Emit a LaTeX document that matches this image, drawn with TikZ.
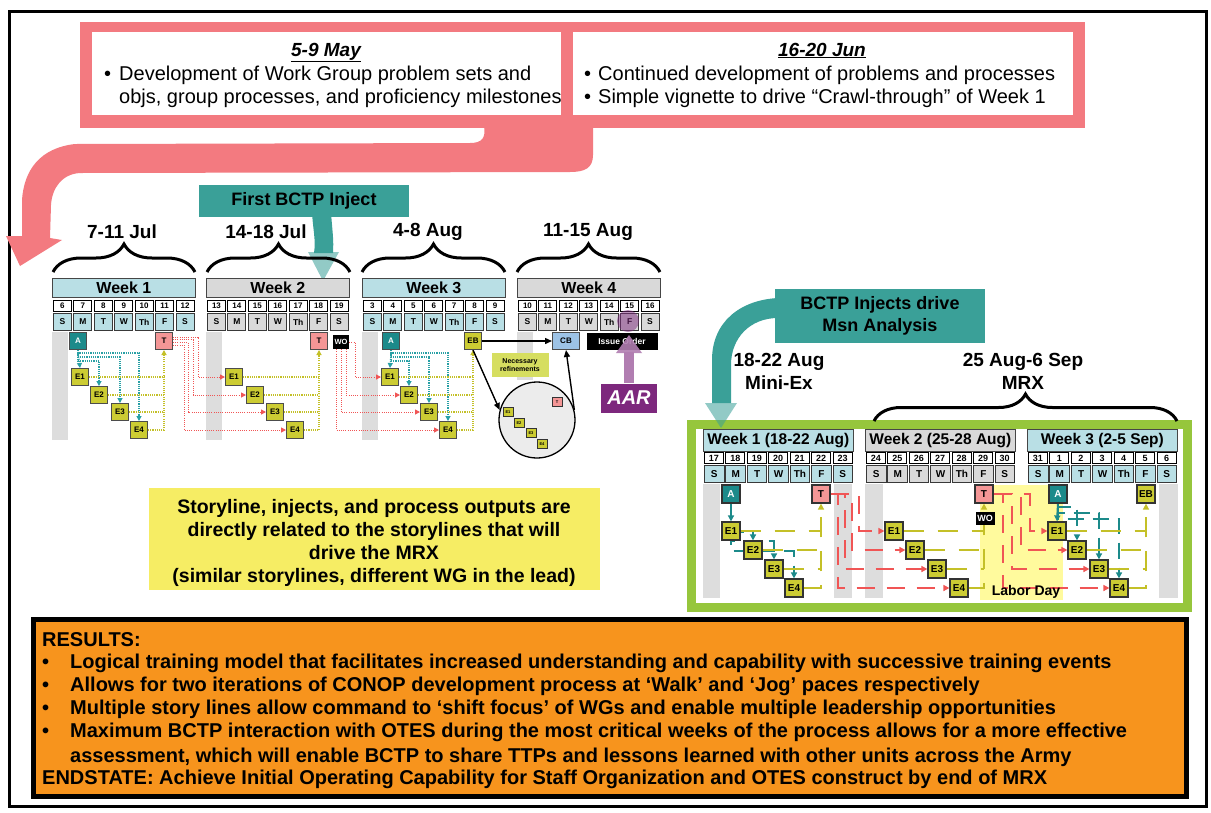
\documentclass[tikz,border=0pt]{standalone}
\usepackage{fontspec}
\setmainfont{Liberation Sans}
\usetikzlibrary{arrows.meta,decorations.pathreplacing,calc}
\pgfdeclarelayer{back}
\pgfdeclarelayer{lines}
\pgfsetlayers{back,lines,main}
\definecolor{pinkC}{RGB}{243,122,128}
\definecolor{tealC}{RGB}{58,160,152}
\definecolor{tealD}{RGB}{28,138,138}
\definecolor{lblue}{RGB}{185,223,229}
\definecolor{lgray}{RGB}{217,217,217}
\definecolor{barg}{RGB}{221,221,221}
\definecolor{ebC}{RGB}{204,204,51}
\definecolor{tC}{RGB}{244,150,150}
\definecolor{cbC}{RGB}{157,195,230}
\definecolor{purC}{RGB}{125,40,125}
\definecolor{grnC}{RGB}{150,198,60}
\definecolor{orgC}{RGB}{247,148,29}
\definecolor{yelC}{RGB}{246,237,100}
\definecolor{redL}{RGB}{240,85,85}
\definecolor{yelL}{RGB}{196,192,40}
\definecolor{tealL}{RGB}{40,160,165}
\definecolor{nrC}{RGB}{214,222,96}
\newcommand{\dayl}[1]{\ifcase#1 S\or M\or T\or W\or Th\or F\or S\fi}
\newcommand{\leftweek}[5]{%
  \node[hdr, fill=#3, minimum width=143pt, minimum height=19pt, anchor=north west, font=\fontsize{16}{18}\selectfont\bfseries] (#1h) at (#2,278) {#4};
  \foreach \dd [count=\ii from 0] in {#5} {%
    \node[numbox, minimum width=18pt, minimum height=11pt, anchor=north west, font=\fontsize{8}{8}\selectfont\bfseries] (#1n\ii) at ({#2+\ii*143/7+1},300) {\dd};
    \node[letbox, fill=#3, minimum width=18pt, minimum height=17pt, anchor=north west, font=\fontsize{8.5}{9}\selectfont\bfseries] (#1l\ii) at ({#2+\ii*143/7+1},313) {\dayl{\ii}};
  }%
}
\newcommand{\mrxweek}[5]{%
  \node[hdr, fill=#3, minimum width=150pt, minimum height=22pt, anchor=north west, font=\fontsize{15.5}{18}\selectfont\bfseries] (#1h) at (#2,429) {#4};
  \foreach \dd [count=\ii from 0] in {#5} {%
    \node[numbox, minimum width=19pt, minimum height=11pt, anchor=north west, font=\fontsize{9}{9}\selectfont\bfseries] (#1n\ii) at ({#2+\ii*150/7+1},452) {\dd};
    \node[letbox, fill=#3, minimum width=19.5pt, minimum height=17pt, anchor=north west, font=\fontsize{10}{10}\selectfont\bfseries] (#1l\ii) at ({#2+\ii*150/7+1},465) {\dayl{\ii}};
  }%
}
\begin{document}
\begin{tikzpicture}[x=1pt,y=-1pt,
  hdr/.style={draw=gray!55!black, line width=0.8pt, inner sep=0pt},
  numbox/.style={draw=black, fill=white, line width=0.9pt, inner sep=0pt},
  letbox/.style={draw=gray!45!black, line width=1pt, inner sep=0pt},
  lsq/.style={draw=black!70, line width=1pt, minimum width=17pt, minimum height=17pt, inner sep=0pt, font=\fontsize{8}{8}\selectfont\bfseries},
  msq/.style={draw=black!80, line width=1.2pt, minimum width=18pt, minimum height=18pt, inner sep=0pt, font=\fontsize{10}{10}\selectfont\bfseries},
  tiny/.style={draw=black!80, line width=0.8pt, fill=ebC, minimum width=10pt, minimum height=9pt, inner sep=0pt, font=\fontsize{4}{4}\selectfont\bfseries},
  tdot/.style={tealL, line width=1.1pt, dash pattern=on 1.1pt off 1.1pt},
  ydot/.style={yelL, line width=1.1pt, dash pattern=on 1.1pt off 1.1pt},
  rdot/.style={redL, line width=1pt, dash pattern=on 1pt off 1.2pt},
  arr/.style={-{Triangle[length=5pt,width=5pt]}},
  mteal/.style={tealD, line width=2pt, dash pattern=on 16pt off 9pt},
  myel/.style={yelL, line width=2pt, dash pattern=on 20pt off 14pt},
  mred/.style={redL, line width=2.2pt, dash pattern=on 18pt off 12pt},
  marr/.style={-{Triangle[length=6pt,width=6pt]}},
  blk/.style={black, line width=1.4pt, -{Triangle[length=7pt,width=6pt]}},
  brc/.style={decorate, decoration={brace, amplitude=28pt}, line width=3pt},
  lbl/.style={font=\fontsize{19}{22}\selectfont\bfseries},
  tf/.style={font=\fontsize{20}{22}\selectfont, inner sep=0pt},
  rf/.style={font=\fontsize{20}{20}\selectfont\bfseries, inner sep=0pt, anchor=base west}
]
\useasboundingbox (0,0) rectangle (1211,812);
% ---------- background layer ----------
\begin{pgfonlayer}{back}
\fill[white] (0,0) rectangle (1211,812);
\draw[line width=3pt] (9,11) rectangle (1206,806);
% pink band
\fill[pinkC] (593,126) -- (593,155) .. controls (593,168) and (585,172) .. (570,172) -- (80,173)
  .. controls (62,174) and (52,188) .. (51,205) -- (50,238) -- (62,240) -- (20,266) -- (6,236) -- (22,236) -- (22,200)
  .. controls (24,170) and (40,148) .. (75,144) -- (470,143) .. controls (482,143) and (486,138) .. (484,126) -- cycle;
\fill[pinkC] (80,22) rectangle (1085,128);
\fill[white] (92,32) rectangle (561,115);
\fill[white] (573,32) rectangle (1073,115);
% teal band (BCTP injects)
\fill[tealC] (778,298) .. controls (740,300) and (712,322) .. (712,360) -- (712,403) -- (731,403) -- (731,365) .. controls (731,338) and (750,318) .. (778,318) -- cycle;
% teal band (first inject)
\fill[tealC] (312,212) .. controls (313,230) and (316,240) .. (314,253) -- (333,253) .. controls (334,240) and (332,228) .. (331,212) -- cycle;
% gray day bars
\fill[barg] (52,332) rectangle (68,440);
\fill[barg] (206,332) rectangle (222,440);
\fill[barg] (362,332) rectangle (378,440);
\fill[barg] (517,332) rectangle (533,380);
% story box
\fill[yelC] (149,488) rectangle (600,590);
% green frame
\draw[grnC, line width=9pt] (691,424) rectangle (1187,607);
\fill[barg] (703,484) rectangle (720,598);
\fill[barg] (834,484) rectangle (852,598);
\fill[barg] (865,484) rectangle (883,598);
\fill[barg] (1159,484) rectangle (1178,598);
\fill[yellow!70!white, opacity=0.55] (980,485) rectangle (1063,600);
% results
\draw[fill=orgC, line width=5pt] (33,619) rectangle (1186,796);
\end{pgfonlayer}

% ---------- top text ----------
\node[anchor=base, font=\fontsize{19}{22}\selectfont\bfseries\itshape] (h1) at (326,56) {\underline{5-9 May}};
\node[tf, anchor=base west] (b11) at (104,80) {•};
\node[tf, anchor=base west] (t11) at (119,80) {Development of Work Group problem sets and};
\node[tf, anchor=base west] (t12) at (119,103) {objs, group processes, and proficiency milestones};
\node[anchor=base, font=\fontsize{19}{22}\selectfont\bfseries\itshape] (h2) at (822,56) {\underline{16-20 Jun}};
\node[tf, anchor=base west] (b21) at (584,80) {•};
\node[tf, anchor=base west] (t21) at (598,80) {Continued development of problems and processes};
\node[tf, anchor=base west] (b22) at (584,103) {•};
\node[tf, anchor=base west] (t22) at (598,103) {Simple vignette to drive “Crawl-through” of Week 1};

% ---------- left section ----------
\node[fill=tealC, minimum width=210pt, minimum height=32pt, inner sep=0pt, font=\fontsize{18}{20}\selectfont\bfseries] (inj1) at (304,201) {First BCTP Inject};
\fill[tealC, opacity=0.55] (308,252) -- (339,252) -- (323,281) -- cycle;

\node[lbl] (l1) at (122,232) {7-11 Jul};
\node[lbl] (l2) at (266,232) {14-18 Jul};
\node[lbl] (l3) at (428,232) {4-8 Aug};
\node[lbl] (l4) at (588,232) {11-15 Aug};
\draw[brc] (53,272) -- (195,272);
\draw[brc] (207,272) -- (350,272);
\draw[brc] (362,272) -- (505,272);
\draw[brc] (517,272) -- (660,272);

\leftweek{wa}{52}{lblue}{Week 1}{6,7,8,9,10,11,12}
\leftweek{wb}{206}{lgray}{Week 2}{13,14,15,16,17,18,19}
\leftweek{wc}{362}{lblue}{Week 3}{3,4,5,6,7,8,9}
\leftweek{wd}{517}{lgray}{Week 4}{10,11,12,13,14,15,16}

% week 1 nodes
\node[lsq, fill=tealD, text=white] (w1a) at (78,341) {A};
\node[lsq, fill=tC] (w1t) at (164,341) {T};
\node[lsq, fill=ebC] (w1e1) at (80,377) {E1};
\node[lsq, fill=ebC] (w1e2) at (99,395) {E2};
\node[lsq, fill=ebC] (w1e3) at (120,412) {E3};
\node[lsq, fill=ebC] (w1e4) at (139,430) {E4};
% week 2 nodes
\node[lsq, fill=tC] (w2t) at (319,341) {T};
\node[fill=black, text=white, minimum width=16pt, minimum height=14pt, inner sep=0pt, font=\fontsize{7.5}{8}\selectfont\bfseries] (w2wo) at (341,342) {WO};
\node[lsq, fill=ebC] (w2e1) at (234,377) {E1};
\node[lsq, fill=ebC] (w2e2) at (255,395) {E2};
\node[lsq, fill=ebC] (w2e3) at (275,412) {E3};
\node[lsq, fill=ebC] (w2e4) at (295,430) {E4};
% week 3 nodes
\node[lsq, fill=tealD, text=white] (w3a) at (391,341) {A};
\node[lsq, fill=ebC] (w3eb) at (473,341) {EB};
\node[lsq, fill=ebC] (w3e1) at (390,377) {E1};
\node[lsq, fill=ebC] (w3e2) at (409,395) {E2};
\node[lsq, fill=ebC] (w3e3) at (429,412) {E3};
\node[lsq, fill=ebC] (w3e4) at (448,430) {E4};
% week 4 nodes
\node[draw=gray!60!black, line width=1pt, fill=cbC, minimum width=27pt, minimum height=17pt, inner sep=0pt, font=\fontsize{8}{8}\selectfont\bfseries] (w4cb) at (566,341) {CB};
\node[fill=black, text=white, minimum width=71pt, minimum height=17pt, inner sep=0pt, font=\fontsize{8.5}{9}\selectfont\bfseries] (w4io) at (622,341) {Issue Order};
\node[fill=nrC, minimum width=57pt, minimum height=24pt, inner sep=0pt, align=center, font=\fontsize{7}{8}\selectfont\bfseries] (nref) at (520,365) {Necessary\\refinements};
\node[fill=purC, text=white, minimum width=56pt, minimum height=29pt, inner sep=0pt, font=\fontsize{20}{22}\selectfont\bfseries\itshape] (aar) at (629,398) {AAR};
% circle
\node[circle, draw=black, line width=1.3pt, fill=gray!15, minimum size=76pt, inner sep=0pt] (circ) at (537,420) {};
\node[tiny, fill=tC] (ct) at (557,402) {T};
\node[tiny] (c1) at (508,412) {E1};
\node[tiny] (c2) at (519,423) {E2};
\node[tiny] (c3) at (531,433) {E3};
\node[tiny] (c4) at (542,444) {E4};

% purple highlight and arrow
\fill[purC, opacity=0.5] (628,321) circle (11);
\fill[purC!60!white] (624,383) rectangle (634,352);
\fill[purC!60!white, opacity=0.9] (616,353) -- (642,353) -- (629,335) -- cycle;

% story text
\node[font=\fontsize{19.5}{23}\selectfont\bfseries, align=center] (story) at (374,543) {Storyline, injects, and process outputs are\\directly related to the storylines that will\\drive the MRX\\(similar storylines, different WG in the lead)};

% ---------- right section ----------
\node[fill=tealC, minimum width=210pt, minimum height=54pt, inner sep=0pt, align=center, font=\fontsize{18}{22}\selectfont\bfseries] (inj2) at (880,316) {BCTP Injects drive\\Msn Analysis};
\fill[tealC, opacity=0.55] (705,403) -- (737,403) -- (721,428) -- cycle;
\node[lbl, align=center, font=\fontsize{19}{23}\selectfont\bfseries] (l5) at (779,371) {18-22 Aug\\Mini-Ex};
\node[lbl, align=center, font=\fontsize{19}{23}\selectfont\bfseries] (l6) at (1023,371) {25 Aug-6 Sep\\MRX};
\draw[brc, decoration={brace, amplitude=27pt}] (874,421) -- (1177,421);

\mrxweek{ma}{703}{lblue}{Week 1 (18-22 Aug)}{17,18,19,20,21,22,23}
\mrxweek{mb}{865}{lgray}{Week 2 (25-28 Aug)}{24,25,26,27,28,29,30}
\mrxweek{mc}{1027}{lblue}{Week 3 (2-5 Sep)}{31,1,2,3,4,5,6}

\node[msq, fill=tealD, text=white] (m1a) at (731,494) {A};
\node[msq, fill=tC] (m1t) at (821,494) {T};
\node[msq, fill=ebC] (m1e1) at (731,531) {E1};
\node[msq, fill=ebC] (m1e2) at (753,550) {E2};
\node[msq, fill=ebC] (m1e3) at (774,569) {E3};
\node[msq, fill=ebC] (m1e4) at (794,588) {E4};

\node[msq, fill=tC] (m2t) at (984,494) {T};
\node[fill=black, text=white, minimum width=19pt, minimum height=13pt, inner sep=0pt, font=\fontsize{9}{9}\selectfont\bfseries] (m2wo) at (985,518) {WO};
\node[msq, fill=ebC] (m2e1) at (894,531) {E1};
\node[msq, fill=ebC] (m2e2) at (915,550) {E2};
\node[msq, fill=ebC] (m2e3) at (937,569) {E3};
\node[msq, fill=ebC] (m2e4) at (959,588) {E4};

\node[msq, fill=tealD, text=white] (m3a) at (1058,494) {A};
\node[msq, fill=ebC] (m3eb) at (1146,494) {EB};
\node[msq, fill=ebC] (m3e1) at (1057,531) {E1};
\node[msq, fill=ebC] (m3e2) at (1077,550) {E2};
\node[msq, fill=ebC] (m3e3) at (1099,569) {E3};
\node[msq, fill=ebC] (m3e4) at (1119,588) {E4};
\node[font=\fontsize{14}{16}\selectfont\bfseries] (lday) at (1026,592) {Labor Day};

% ---------- connectors ----------
\begin{pgfonlayer}{lines}
% left week 1
\draw[tdot,arr] (w1a.south) -- (w1e1.north);
\draw[tdot,arr] (w1a.south) -- (w1a.south |- 0,361) -| (w1e2.north);
\draw[tdot,arr] (w1a.south) -- (w1a.south |- 0,357) -| (w1e3.north);
\draw[tdot,arr] (w1a.south) -- (w1a.south |- 0,353) -| (w1e4.north);
\draw[ydot] (w1e1.east) -- (w1e1.east -| w1t.south);
\draw[ydot] (w1e2.east) -- (w1e2.east -| w1t.south);
\draw[ydot] (w1e3.east) -- (w1e3.east -| w1t.south);
\draw[ydot,arr] (w1e4.east) -| (w1t.south);
\draw[rdot,arr] ([yshift=4pt]w1t.east) -- ++(25,0) |- (w2e1.west);
\draw[rdot,arr] ([yshift=1.5pt]w1t.east) -- ++(20,0) |- (w2e2.west);
\draw[rdot,arr] ([yshift=-1.5pt]w1t.east) -- ++(15,0) |- (w2e3.west);
\draw[rdot,arr] ([yshift=-4pt]w1t.east) -- ++(11,0) |- (w2e4.west);
% left week 2
\draw[ydot] (w2e1.east) -- (w2e1.east -| w2t.south);
\draw[ydot] (w2e2.east) -- (w2e2.east -| w2t.south);
\draw[ydot] (w2e3.east) -- (w2e3.east -| w2t.south);
\draw[ydot,arr] (w2e4.east) -| (w2t.south);
\draw[rdot,arr] (w2wo.east) -- ++(6,0) |- (w3e1.west);
\draw[rdot,arr] ([xshift=5pt]w2wo.south) |- (w3e2.west);
\draw[rdot,arr] (w2wo.south) |- (w3e3.west);
\draw[rdot,arr] ([xshift=-5pt]w2wo.south) |- (w3e4.west);
% left week 3
\draw[tdot,arr] (w3a.south) -- (w3e1.north);
\draw[tdot,arr] (w3a.south) -- (w3a.south |- 0,361) -| (w3e2.north);
\draw[tdot,arr] (w3a.south) -- (w3a.south |- 0,357) -| (w3e3.north);
\draw[tdot,arr] (w3a.south) -- (w3a.south |- 0,353) -| (w3e4.north);
\draw[ydot] (w3e1.east) -- (w3e1.east -| w3eb.south);
\draw[ydot] (w3e2.east) -- (w3e2.east -| w3eb.south);
\draw[ydot] (w3e3.east) -- (w3e3.east -| w3eb.south);
\draw[ydot,arr] (w3e4.east) -| (w3eb.south);
\draw[blk] (w3eb.east) -- (w4cb.west);
\draw[blk] (w3eb.south) -- (circ.165);
\draw[blk] (circ.15) -- (w4cb.south);
\draw[ydot,arr] (c1.east) -- (ct.south west);
\draw[ydot,arr] (c2.north east) -- (ct.south west);
\draw[ydot,arr] (c3.north east) -- (ct.south);
\draw[ydot,arr] (c4.north) -- (ct.south);
% MRX week 1
\draw[mteal,marr] (m1a.south) -- (m1e1.north);
\draw[mteal,marr] (m1a.south) -- (m1a.south |- 0,532) -| (m1e2.north);
\draw[mteal,marr] (m1a.south) -- (m1a.south |- 0,541) -| (m1e3.north);
\draw[mteal,marr] (m1a.south) -- (m1a.south |- 0,551) -| (m1e4.north);
\draw[myel] (m1e1.east) -- (m1e1.east -| m1t.south);
\draw[myel] (m1e2.east) -- (m1e2.east -| m1t.south);
\draw[myel] (m1e3.east) -- (m1e3.east -| m1t.south);
\draw[myel,marr] (m1e4.east) -| (m1t.south);
\draw[mred,marr] (m1t.east) -- ++(28,0) |- (m2e1.west);
\draw[mred,marr] (m1t.east) -- ++(21,0) |- (m2e2.west);
\draw[mred,marr] (m1t.east) -- ++(14,0) |- (m2e3.west);
\draw[mred,marr] (m1t.east) -- ++(7,0) |- (m2e4.west);
% MRX week 2
\draw[myel] (m2e1.east) -- (m2e1.east -| m2t.south);
\draw[myel] (m2e2.east) -- (m2e2.east -| m2t.south);
\draw[myel] (m2e3.east) -- (m2e3.east -| m2t.south);
\draw[myel,marr] (m2e4.east) -| (m2t.south);
\draw[mred,marr] (m2t.east) -- ++(36,0) |- (m3e1.west);
\draw[mred,marr] (m2t.east) -- ++(27,0) |- (m3e2.west);
\draw[mred,marr] (m2t.east) -- ++(18,0) |- (m3e3.west);
\draw[mred,marr] (m2t.east) -- ++(9,0) |- (m3e4.west);
% MRX week 3
\draw[mteal,marr] (m3a.south) -- (m3e1.north);
\draw[mteal,marr] (m3a.south) -- (m3a.south |- 0,507) -| (m3e2.north);
\draw[mteal,marr] (m3a.south) -- (m3a.south |- 0,513) -| (m3e3.north);
\draw[mteal,marr] (m3a.south) -- (m3a.south |- 0,519) -| (m3e4.north);
\draw[myel] (m3e1.east) -- (m3e1.east -| m3eb.south);
\draw[myel] (m3e2.east) -- (m3e2.east -| m3eb.south);
\draw[myel] (m3e3.east) -- (m3e3.east -| m3eb.south);
\draw[myel,marr] (m3e4.east) -| (m3eb.south);
\end{pgfonlayer}

% ---------- results ----------
\node[rf] (r0) at (42,646) {RESULTS:};
\node[rf] (rb1) at (42,668) {•};
\node[rf] (r1) at (70,668) {Logical training model that facilitates increased understanding and capability with successive training events};
\node[rf] (rb2) at (42,691) {•};
\node[rf] (r2) at (70,691) {Allows for two iterations of CONOP development process at ‘Walk’ and ‘Jog’ paces respectively};
\node[rf] (rb3) at (42,714) {•};
\node[rf] (r3) at (70,714) {Multiple story lines allow command to ‘shift focus’ of WGs and enable multiple leadership opportunities};
\node[rf] (rb4) at (42,737) {•};
\node[rf] (r4) at (70,737) {Maximum BCTP interaction with OTES during the most critical weeks of the process allows for a more effective};
\node[rf] (r5) at (70,762) {assessment, which will enable BCTP to share TTPs and lessons learned with other units across the Army};
\node[rf] (r6) at (42,784) {ENDSTATE: Achieve Initial Operating Capability for Staff Organization and OTES construct by end of MRX};
\end{tikzpicture}
\end{document}
